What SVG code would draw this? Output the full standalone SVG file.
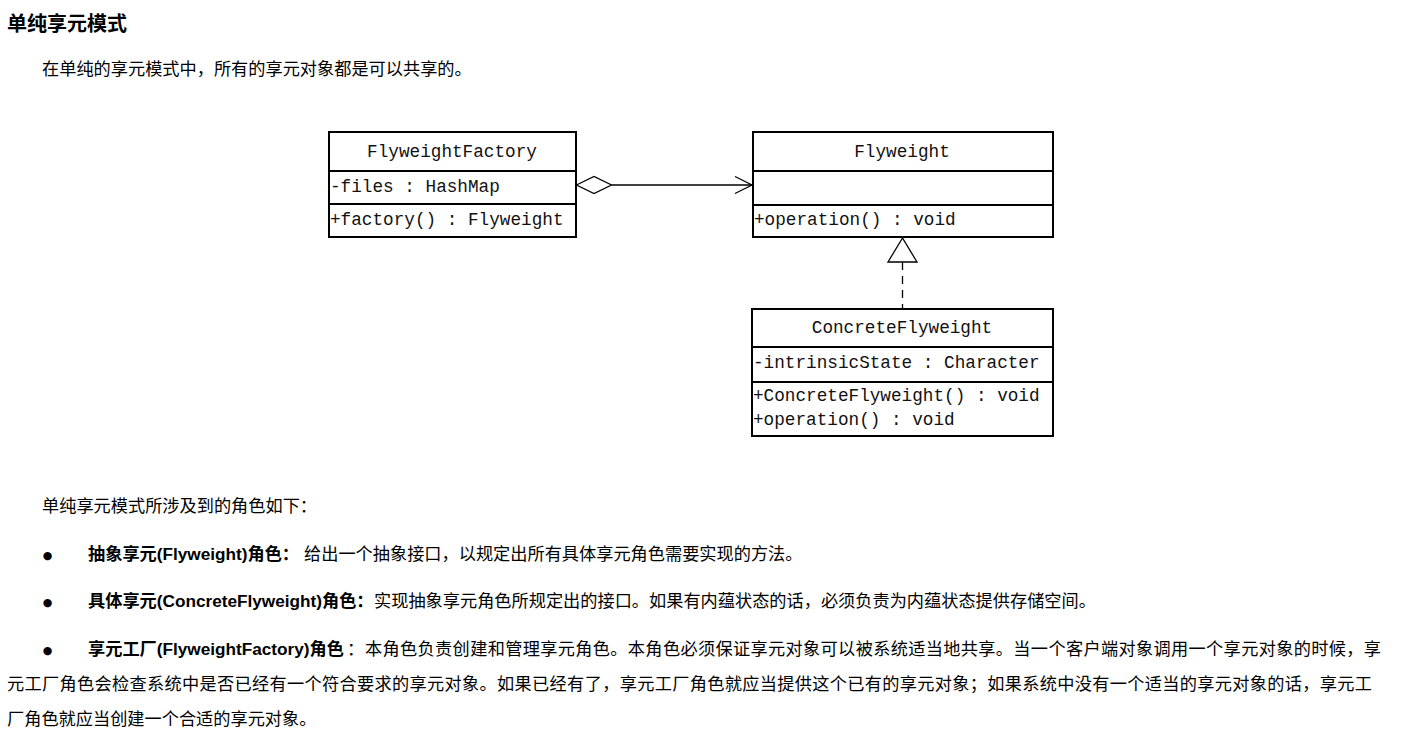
<svg xmlns="http://www.w3.org/2000/svg" width="1404" height="741" viewBox="0 0 1404 741">
<style>
.box{fill:#fff;stroke:#000;stroke-width:2}
.div{stroke:#000;stroke-width:2}
.uml{font-family:"Liberation Mono","DejaVu Sans Mono",monospace;font-size:17.7px;fill:#111}
.c{text-anchor:middle}
.body{font-family:"Liberation Sans","Noto Sans CJK SC",sans-serif;font-size:17.2px;fill:#000}
.b{font-weight:bold}
.bul{font-family:"DejaVu Sans",sans-serif;font-size:11px;fill:#000;text-anchor:middle}
.conn{fill:none;stroke:#000;stroke-width:1.3}
</style>
<rect width="1404" height="741" fill="#fff"/>
<g id="texts">
<text class="body b" x="7" y="31" style="font-size:20px">单纯享元模式</text>
<text class="body" x="42" y="75">在单纯的享元模式中，所有的享元对象都是可以共享的。</text>
<text class="body" x="42" y="512">单纯享元模式所涉及到的角色如下：</text>
<text class="bul" x="47.5" y="559">●</text>
<text class="body b" x="88" y="560">抽象享元(Flyweight)角色：</text>
<text class="body" x="304" y="560">给出一个抽象接口，以规定出所有具体享元角色需要实现的方法。</text>
<text class="bul" x="47.5" y="606">●</text>
<text class="body b" x="88" y="607">具体享元(ConcreteFlyweight)角色：</text>
<text class="body" x="374" y="607">实现抽象享元角色所规定出的接口。如果有内蕴状态的话，必须负责为内蕴状态提供存储空间。</text>
<text class="bul" x="47.5" y="654">●</text>
<text class="body b" x="88" y="655">享元工厂(FlyweightFactory)角色</text>
<text class="body" x="347" y="655">：</text>
<text class="body" x="365" y="655" textLength="1016" lengthAdjust="spacing">本角色负责创建和管理享元角色。本角色必须保证享元对象可以被系统适当地共享。当一个客户端对象调用一个享元对象的时候，享</text>
<text class="body" x="7" y="690" textLength="1365" lengthAdjust="spacing">元工厂角色会检查系统中是否已经有一个符合要求的享元对象。如果已经有了，享元工厂角色就应当提供这个已有的享元对象；如果系统中没有一个适当的享元对象的话，享元工</text>
<text class="body" x="7" y="725">厂角色就应当创建一个合适的享元对象。</text>
</g>
<g id="FlyweightFactory">
<rect class="box" x="329" y="132" width="247" height="105"/>
<line class="div" x1="329" y1="171" x2="576" y2="171"/>
<line class="div" x1="329" y1="204" x2="576" y2="204"/>
<text class="uml c" x="452" y="157">FlyweightFactory</text>
<text class="uml" x="330" y="192">-files : HashMap</text>
<text class="uml" x="330" y="225">+factory() : Flyweight</text>
</g>
<g id="Flyweight">
<rect class="box" x="753" y="132" width="300" height="105"/>
<line class="div" x1="753" y1="171" x2="1053" y2="171"/>
<line class="div" x1="753" y1="205" x2="1053" y2="205"/>
<text class="uml c" x="902" y="157">Flyweight</text>
<text class="uml" x="754" y="225">+operation() : void</text>
</g>
<g id="ConcreteFlyweight">
<rect class="box" x="752" y="309" width="301" height="127"/>
<line class="div" x1="752" y1="347" x2="1053" y2="347"/>
<line class="div" x1="752" y1="382" x2="1053" y2="382"/>
<text class="uml c" x="902" y="333">ConcreteFlyweight</text>
<text class="uml" x="753" y="368">-intrinsicState : Character</text>
<text class="uml" x="753" y="401">+ConcreteFlyweight() : void</text>
<text class="uml" x="753" y="425">+operation() : void</text>
</g>
<g id="connectors">
<line class="conn" x1="611.5" y1="185" x2="752" y2="185"/>
<polygon class="conn" points="576.5,185 594,176.5 611.5,185 594,193.5" style="fill:#fff"/>
<polyline class="conn" points="735,176.5 752,185 735,193.5"/>
<line class="conn" x1="902.5" y1="262" x2="902.5" y2="309" stroke-dasharray="8,6"/>
<polygon class="conn" points="902.5,238 888,262 917,262" style="fill:#fff"/>
</g>
</svg>
